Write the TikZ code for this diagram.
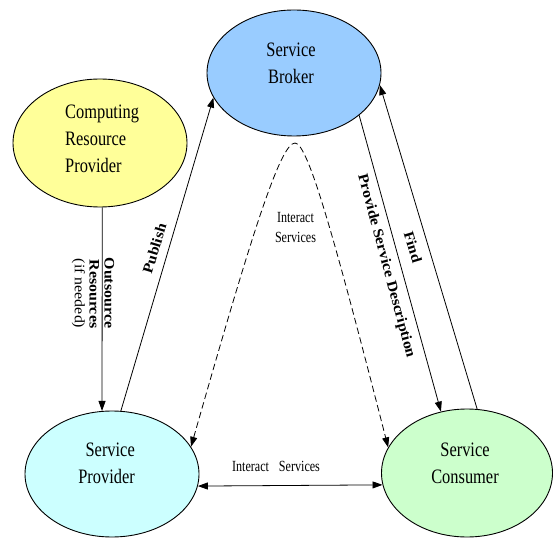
\documentclass[tikz,border=0pt]{standalone}
\usepackage{fontspec}
\setmainfont{Liberation Serif}
\newfontfamily\nodefont[FakeStretch=0.8]{Liberation Serif}
\newfontfamily\smallfont[FakeStretch=0.78]{Liberation Serif}
\newfontfamily\rotfont[FakeStretch=1.1]{Liberation Serif}
\usetikzlibrary{shapes.geometric,arrows.meta}
\definecolor{brokerblue}{RGB}{153,204,255}
\definecolor{crpyellow}{RGB}{255,255,153}
\definecolor{spcyan}{RGB}{204,255,255}
\definecolor{scgreen}{RGB}{204,255,204}
\begin{document}
\begin{tikzpicture}[x=1pt,y=1pt,
  ell/.style={ellipse, draw=black, line width=0.9pt, inner sep=0pt},
  ntext/.style={inner sep=0pt, font=\nodefont\fontsize{20.5}{27}\selectfont},
  stext/.style={inner sep=0pt, font=\smallfont\fontsize{15.5}{20}\selectfont},
  rtext/.style={inner sep=0pt, font=\rotfont\fontsize{14.5}{14.8}\selectfont},
  conn/.style={line width=0.8pt, -{Triangle[length=10pt,width=7pt]}},
  dconn/.style={line width=0.8pt, dash pattern=on 6.5pt off 3.5pt, {Triangle[length=10pt,width=7pt]}-{Triangle[length=10pt,width=7pt]}},
  bconn/.style={line width=0.8pt, {Triangle[length=10pt,width=7pt]}-{Triangle[length=10pt,width=7pt]}},
  ]
\useasboundingbox (0,0) rectangle (553,538);
% ellipses
\node[ell, fill=brokerblue, minimum width=174pt, minimum height=126pt] (broker) at (294,465) {};
\node[ell, fill=crpyellow, minimum width=174pt, minimum height=128pt] (crp) at (100,395) {};
\node[ell, fill=spcyan, minimum width=174pt, minimum height=126pt] (sp) at (112,64) {};
\node[ell, fill=scgreen, minimum width=171pt, minimum height=128pt] (sc) at (467,65) {};
% node texts
\node[ntext, align=center] (brokerT) at (291,474.5) {Service\\Broker};
\node[ntext, align=left, anchor=west] (crpT) at (65,399.5) {Computing\\Resource\\Provider};
\node[ntext, align=right, anchor=east] (spT) at (135,74.5) {Service\\Provider};
\node[ntext, align=center] (scT) at (465,75) {Service\\Consumer};
% connectors
\draw[conn] (crp.272) -- (sp.99);
\draw[conn] (sp.82) -- (broker.197);
\draw[conn] (broker.327) -- (sc.113);
\draw[conn] (sc.81) -- (broker.352);
\draw[bconn] (sp.352) -- (sc.188);
\coordinate (apex) at (295,395);
\draw[dconn] (sp.19) .. controls (250,298) and (280,395) .. (apex) .. controls (308,395) and (335,298) .. (sc.162);
% labels
\node[stext, align=center] (midT) at (295.5,310.5) {Interact\\Services};
\node[stext] (botT) at (276,71.5) {Interact\hspace{10pt}Services};
\node[rtext, rotate=-90, align=right] (outT) at (93,245) {\textbf{Outsource}\\\textbf{Resources}\\(if needed)};
\node[rtext, rotate=73] (pubT) at (154.5,289.5) {\textbf{Publish}};
\node[rtext, rotate=-75] (provT) at (386,272) {\textbf{Provide Service Description}};
\node[rtext, rotate=-73.5] (findT) at (413,291) {\textbf{Find}};
\end{tikzpicture}
\end{document}
